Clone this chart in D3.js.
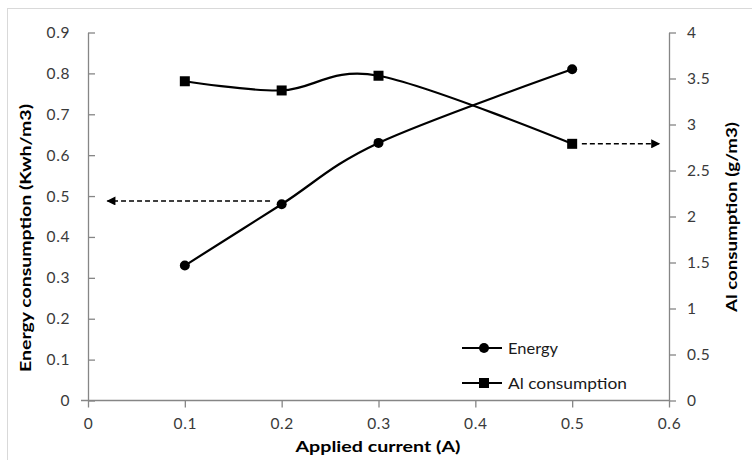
<!DOCTYPE html>
<html>
<head>
<meta charset="utf-8">
<script src="https://cdn.jsdelivr.net/npm/d3@7"></script>
<style>
  html, body { margin: 0; padding: 0; background: #fff; }
  svg { display: block; }
  text { font-family: Lato, "Open Sans", sans-serif; }
</style>
</head>
<body>
<svg id="chart" width="752" height="460"></svg>
<script>
// Applied current (A) on the x axis
const current = [0.1, 0.2, 0.3, 0.5];
// Energy consumption (Kwh/m3), left axis
const energy = [0.33, 0.48, 0.63, 0.81];
// Al consumption (g/m3), right axis
const alConsumption = [3.47, 3.37, 3.53, 2.79];

const xTicks = [0, 0.1, 0.2, 0.3, 0.4, 0.5, 0.6];
const leftTicks = [0, 0.1, 0.2, 0.3, 0.4, 0.5, 0.6, 0.7, 0.8, 0.9];
const rightTicks = [0, 0.5, 1, 1.5, 2, 2.5, 3, 3.5, 4];

// Dashed pointer arrows showing which axis each series belongs to
const energyArrow = { from: 0.188, to: 0.02, value: 0.488 };
const alArrow = { from: 0.51, to: 0.59, value: 2.79 };

const svg = d3.select("#chart");
const plotLeft = 88, plotRight = 669, plotTop = 32.5, plotBottom = 400.5;

const x = d3.scaleLinear().domain([0, 0.6]).range([plotLeft, plotRight]);
const yL = d3.scaleLinear().domain([0, 0.9]).range([plotBottom, plotTop]);
const yR = d3.scaleLinear().domain([0, 4]).range([plotBottom, plotTop]);

// outer chart frame
svg.append("rect")
  .attr("x", 7.5).attr("y", 8.5)
  .attr("width", 800).attr("height", 500)
  .attr("fill", "none").attr("stroke", "#d9d9d9").attr("stroke-width", 1);

const axisColor = "#868686";
const labelColor = "#3a3a3a";

function styleAxis(g) {
  g.select(".domain").attr("stroke", axisColor).attr("stroke-width", 1.3);
  g.selectAll(".tick line").attr("stroke", axisColor).attr("stroke-width", 1.3);
  g.selectAll(".tick text").attr("fill", labelColor)
    .style("font-family", "Lato, sans-serif").style("font-size", "15.5px")
    .style("letter-spacing", "0.6px");
}

// left axis with crossing ticks
const gL = svg.append("g").attr("transform", `translate(${plotLeft},0)`)
  .call(d3.axisLeft(yL).tickValues(leftTicks).tickFormat(d => d === 0 ? "0" : d3.format(".1f")(d))
    .tickSizeInner(7).tickSizeOuter(0).tickPadding(11));
styleAxis(gL);
gL.selectAll(".tick line").attr("x2", 7);

// right axis
const gR = svg.append("g").attr("transform", `translate(${plotRight},0)`)
  .call(d3.axisRight(yR).tickValues(rightTicks).tickFormat(d => String(d))
    .tickSizeInner(7).tickSizeOuter(0).tickPadding(11));
styleAxis(gR);

// bottom axis
const gB = svg.append("g").attr("transform", `translate(0,${plotBottom})`)
  .call(d3.axisBottom(x).tickValues(xTicks).tickFormat(d => d === 0 ? "0" : d3.format(".1f")(d))
    .tickSizeInner(7).tickSizeOuter(0).tickPadding(10));
styleAxis(gB);
gB.select(".domain").attr("d", `M${plotLeft - 7},0H${plotRight}`);

// axis titles
function title(tx, ty, rot, len, str) {
  svg.append("text")
    .attr("transform", `translate(${tx},${ty}) rotate(${rot})`)
    .attr("text-anchor", "middle")
    .attr("textLength", len).attr("lengthAdjust", "spacingAndGlyphs")
    .style("font-size", "16px").style("font-weight", "bold").attr("fill", "#000")
    .text(str);
}
title(31, 238, -90, 268, "Energy consumption  (Kwh/m3)");
title(737, 217, -90, 190, "Al consumption  (g/m3)");
title(378, 452, 0, 165, "Applied current (A)");

// arrowhead marker
const defs = svg.append("defs");
defs.append("marker")
  .attr("id", "arrow").attr("viewBox", "0 0 10 10")
  .attr("refX", 9).attr("refY", 5)
  .attr("markerWidth", 10).attr("markerHeight", 9)
  .attr("markerUnits", "userSpaceOnUse")
  .attr("orient", "auto")
  .append("path").attr("d", "M0,0L10,5L0,10Z").attr("fill", "#000");

function dashedArrow(a, yScale) {
  svg.append("line")
    .attr("x1", x(a.from)).attr("x2", x(a.to))
    .attr("y1", yScale(a.value)).attr("y2", yScale(a.value))
    .attr("stroke", "#000").attr("stroke-width", 1.4)
    .attr("stroke-dasharray", "5,3")
    .attr("marker-end", "url(#arrow)");
}
dashedArrow(energyArrow, yL);
dashedArrow(alArrow, yR);

// series lines (smoothed)
const curve = d3.curveCardinal.tension(0);
const energyPts = current.map((c, i) => [c, energy[i]]);
const alPts = current.map((c, i) => [c, alConsumption[i]]);

svg.append("path")
  .datum(energyPts)
  .attr("fill", "none").attr("stroke", "#000").attr("stroke-width", 2.2)
  .attr("d", d3.line().x(d => x(d[0])).y(d => yL(d[1])).curve(curve));

svg.append("path")
  .datum(alPts)
  .attr("fill", "none").attr("stroke", "#000").attr("stroke-width", 2.2)
  .attr("d", d3.line().x(d => x(d[0])).y(d => yR(d[1])).curve(curve));

svg.selectAll(".energy-pt").data(energyPts).join("circle")
  .attr("cx", d => x(d[0])).attr("cy", d => yL(d[1])).attr("r", 5).attr("fill", "#000");

svg.selectAll(".al-pt").data(alPts).join("rect")
  .attr("x", d => x(d[0]) - 5).attr("y", d => yR(d[1]) - 5)
  .attr("width", 10).attr("height", 10).attr("fill", "#000");

// legend
const legend = svg.append("g");
const legendItems = [
  { name: "Energy", shape: "circle", y: 348, len: 50 },
  { name: "Al consumption", shape: "square", y: 383, len: 119 }
];
legendItems.forEach(it => {
  legend.append("line").attr("x1", 462).attr("x2", 502)
    .attr("y1", it.y).attr("y2", it.y).attr("stroke", "#000").attr("stroke-width", 2.2);
  if (it.shape === "circle") {
    legend.append("circle").attr("cx", 484).attr("cy", it.y).attr("r", 5).attr("fill", "#000");
  } else {
    legend.append("rect").attr("x", 479).attr("y", it.y - 5).attr("width", 10).attr("height", 10).attr("fill", "#000");
  }
  legend.append("text").attr("x", 508).attr("y", it.y + 6)
    .attr("textLength", it.len).attr("lengthAdjust", "spacingAndGlyphs")
    .style("font-size", "16px").attr("fill", "#1a1a1a").text(it.name);
});
</script>
</body>
</html>
